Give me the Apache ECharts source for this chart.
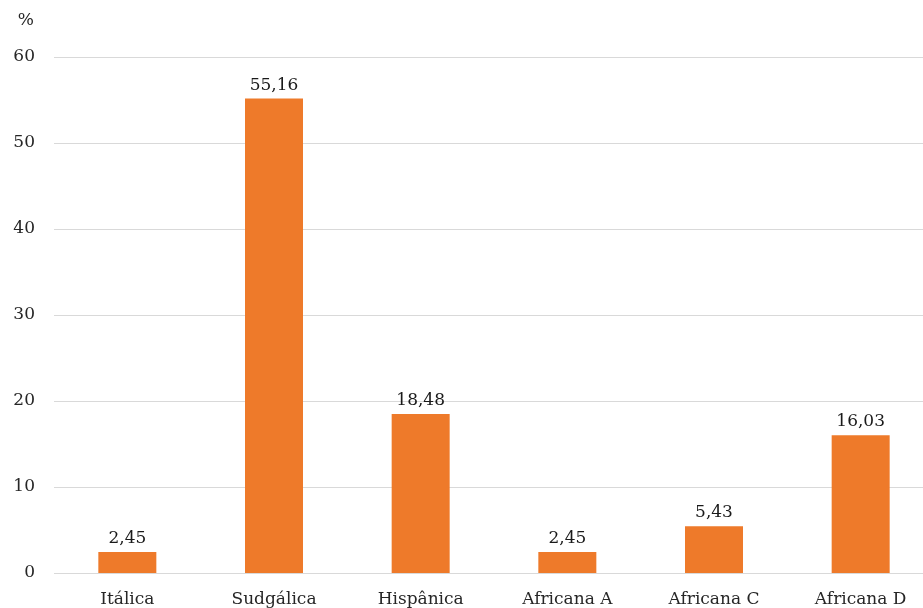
<!DOCTYPE html>
<html><head><meta charset="utf-8">
<script src="https://cdn.jsdelivr.net/npm/echarts@6/dist/echarts.min.js"></script>
<style>html,body{margin:0;padding:0;background:#fff;overflow:hidden;width:923px;height:608px}#c{width:934px;height:608px}</style>
</head><body><div id="c"></div>
<script>
const categories = ["Itálica","Sudgálica","Hispânica","Africana A","Africana C","Africana D"];
const values = [2.45, 55.16, 18.48, 2.45, 5.43, 16.03];
const yTicks = [0,10,20,30,40,50,60];
const yUnit = "%";

const font = "'DejaVu Serif', 'Liberation Serif', serif";
const chart = echarts.init(document.getElementById('c'));
chart.setOption({
  animation: false,
  grid: {left: 54, top: 57, right: 0, bottom: 35, containLabel: false},
  xAxis: {
    type: 'category', data: categories,
    axisLine: {show: false}, axisTick: {show: false},
    axisLabel: {color: '#262626', fontFamily: font, fontSize: 17, margin: 18}
  },
  yAxis: {
    type: 'value', min: yTicks[0], max: yTicks[yTicks.length-1], interval: 10,
    name: yUnit, nameLocation: 'end', nameGap: 28,
    nameTextStyle: {color: '#262626', fontFamily: font, fontSize: 17, align: 'right', padding: [0, 20, 0, 0]},
    axisLine: {show: false}, axisTick: {show: false},
    axisLabel: {color: '#262626', fontFamily: font, fontSize: 17, margin: 19},
    splitLine: {lineStyle: {color: '#d9d9d9', width: 1}}
  },
  series: [{
    type: 'bar', data: values, barWidth: 58,
    itemStyle: {color: '#EE7A2A'},
    label: {show: true, position: 'top', distance: 5, color: '#1a1a1a', fontFamily: font, fontSize: 17,
      formatter: p => p.value.toFixed(2).replace('.', ',')}
  }]
});
</script></body></html>
